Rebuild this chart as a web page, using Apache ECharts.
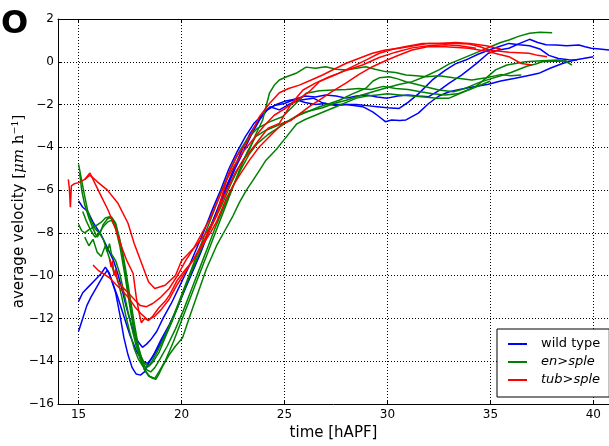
<!DOCTYPE html>
<html><head><meta charset="utf-8">
<script src="https://cdn.jsdelivr.net/npm/echarts@6/dist/echarts.min.js"></script>
<style>html,body{margin:0;padding:0;background:#fff}#c{width:609px;height:446px}</style>
</head><body><div id="c"></div>
<script>
// ---- data (time [hAPF], average velocity [um/h]) ----
const groupNames = ['wild type', 'en>sple', 'tub>sple'];
const groupColors = ['#0000ff', '#008000', '#ff0000'];

const wt1 = [[15.0,-11.2],[15.2,-10.8],[15.5,-10.5],[15.8,-10.2],[16.1,-9.9],[16.3,-9.6],[16.5,-9.9],[16.8,-10.8],[17.0,-11.8],[17.2,-12.9],[17.4,-13.7],[17.6,-14.3],[17.8,-14.6],[18.0,-14.65],[18.2,-14.5],[18.4,-14.1],[18.7,-13.6],[19.0,-13.0],[19.4,-12.3],[19.8,-11.5],[20.2,-10.5],[20.6,-9.6],[21.0,-8.7],[21.4,-7.7],[21.8,-6.8],[22.2,-5.9],[22.6,-5.0],[23.0,-4.2],[23.4,-3.4],[23.8,-2.7],[24.2,-2.2],[24.6,-2.0],[25.0,-1.85],[25.5,-1.75],[26.0,-1.6],[26.5,-1.65],[27.0,-1.55],[27.5,-1.6],[28.0,-1.7],[28.5,-1.6],[29.0,-1.55],[29.5,-1.65],[30.0,-1.7],[30.5,-1.6],[31.0,-1.55],[31.5,-1.6],[32.0,-1.63],[32.5,-1.35],[33.0,-1.0],[33.6,-0.62],[34.3,-0.1],[34.9,0.4],[35.4,0.55],[35.9,0.63],[36.4,0.85],[36.9,1.05],[37.3,0.9],[37.7,0.8],[38.2,0.78],[38.7,0.75],[39.3,0.78],[39.6,0.7],[39.9,0.63],[40.3,0.6],[40.76,0.55]];
const wt2 = [[15.0,-12.6],[15.2,-12.0],[15.4,-11.4],[15.6,-11.0],[15.9,-10.5],[16.2,-10.0],[16.4,-9.75],[16.6,-10.2],[16.9,-11.0],[17.2,-11.9],[17.5,-12.8],[17.8,-13.5],[18.1,-14.0],[18.35,-14.1],[18.6,-13.8],[18.9,-13.3],[19.3,-12.6],[19.7,-11.7],[20.1,-10.8],[20.5,-9.9],[20.9,-9.0],[21.3,-8.0],[21.7,-7.0],[22.1,-6.0],[22.5,-5.1],[22.9,-4.2],[23.3,-3.4],[23.7,-2.8],[24.1,-2.3],[24.5,-2.05],[25.0,-1.95],[25.5,-1.75],[26.0,-1.9],[26.5,-2.0],[27.0,-1.95],[27.5,-2.05],[28.0,-2.0],[28.5,-2.0],[29.0,-2.05],[29.5,-2.1],[30.0,-2.15],[30.57,-2.18],[31.0,-1.9],[31.5,-1.5],[32.18,-0.85],[32.8,-0.4],[33.3,-0.1],[33.8,0.08],[34.4,0.35],[34.93,0.55],[35.4,0.7],[35.9,0.86],[36.4,0.8],[36.9,0.75],[37.4,0.6],[37.84,0.3],[38.3,0.15],[38.8,0.1],[39.2,0.08]];
const wt3 = [[15.0,-6.5],[15.2,-6.8],[15.45,-7.0],[15.7,-7.5],[15.9,-7.8],[16.1,-8.1],[16.3,-8.5],[16.5,-8.9],[16.7,-9.3],[16.9,-9.9],[17.1,-10.6],[17.3,-11.4],[17.5,-12.1],[17.7,-12.7],[17.9,-13.1],[18.1,-13.35],[18.3,-13.2],[18.5,-13.0],[18.8,-12.6],[19.1,-12.0],[19.5,-11.3],[19.9,-10.5],[20.3,-9.7],[20.7,-8.8],[21.1,-7.9],[21.5,-6.9],[21.9,-6.0],[22.3,-5.0],[22.7,-4.2],[23.1,-3.5],[23.5,-2.9],[23.9,-2.5],[24.3,-2.1],[24.75,-2.25],[25.2,-2.0],[25.7,-1.8],[26.4,-1.7],[26.8,-1.9],[27.2,-2.0],[28.0,-2.0],[28.8,-2.1],[29.3,-2.35],[29.6,-2.57],[29.9,-2.8],[30.2,-2.72],[30.6,-2.75],[30.9,-2.72],[31.5,-2.4],[32.0,-1.95],[32.5,-1.6],[33.0,-1.4],[33.5,-1.3],[34.0,-1.2],[34.9,-1.05],[35.5,-0.9],[36.2,-0.77],[36.8,-0.65],[37.35,-0.54],[37.9,-0.3],[38.5,-0.08],[39.1,0.08],[39.5,0.15],[40.0,0.24]];

const en1 = [[15.0,-4.8],[15.1,-5.3],[15.2,-5.8],[15.3,-6.3],[15.45,-7.0],[15.6,-7.4],[15.8,-7.8],[16.0,-8.0],[16.2,-8.3],[16.4,-8.9],[16.5,-8.5],[16.6,-9.0],[16.8,-9.3],[17.0,-9.9],[17.2,-10.8],[17.4,-11.7],[17.6,-12.5],[17.8,-13.3],[18.0,-13.9],[18.2,-14.4],[18.4,-14.7],[18.6,-14.8],[18.75,-14.85],[18.9,-14.6],[19.1,-14.2],[19.4,-13.7],[19.7,-13.3],[20.05,-12.9],[20.4,-11.9],[20.8,-10.8],[21.2,-9.7],[21.7,-8.6],[22.1,-7.9],[22.5,-7.2],[22.8,-6.6],[23.15,-6.0],[23.5,-5.5],[23.8,-5.05],[24.1,-4.6],[24.6,-4.1],[25.1,-3.5],[25.6,-2.9],[26.0,-2.7],[26.5,-2.5],[27.0,-2.3],[27.5,-2.1],[28.0,-1.9],[28.5,-1.7],[29.0,-1.6],[29.5,-1.55],[30.0,-1.5],[30.6,-1.55],[31.2,-1.6],[31.8,-1.65],[32.4,-1.7],[33.0,-1.7],[33.6,-1.45],[34.3,-1.15],[34.8,-0.75],[35.25,-0.38],[35.8,-0.15],[36.7,0.0],[37.5,0.05],[38.3,0.08],[38.7,0.0],[38.96,-0.15]];
const en2 = [[15.0,-7.6],[15.15,-7.9],[15.3,-8.0],[15.5,-7.85],[15.8,-7.7],[16.1,-7.5],[16.3,-7.3],[16.5,-7.25],[16.75,-7.5],[16.9,-8.0],[17.1,-8.7],[17.3,-9.8],[17.5,-11.0],[17.7,-12.2],[17.9,-13.3],[18.1,-14.0],[18.3,-14.4],[18.5,-14.5],[18.7,-14.3],[18.95,-13.9],[19.3,-13.3],[19.7,-12.5],[20.1,-11.6],[20.5,-10.6],[20.9,-9.6],[21.3,-8.6],[21.7,-7.6],[22.1,-6.7],[22.5,-5.8],[22.9,-5.0],[23.3,-4.3],[23.7,-3.8],[24.2,-3.4],[24.75,-3.05],[25.3,-2.7],[25.8,-2.4],[26.4,-2.25],[26.85,-2.15],[27.4,-1.95],[28.0,-1.8],[28.6,-1.6],[29.3,-1.4],[30.0,-1.2],[30.6,-1.05],[31.2,-0.93],[31.8,-0.7],[32.5,-0.38],[33.0,-0.1],[33.5,0.1],[34.0,0.3],[34.5,0.5],[35.0,0.7],[35.5,0.9],[35.9,1.02],[36.4,1.2],[36.9,1.33],[37.4,1.38],[38.0,1.36]];
const en3 = [[15.05,-5.2],[15.15,-6.0],[15.3,-6.7],[15.5,-7.3],[15.7,-7.8],[15.9,-8.2],[16.05,-8.0],[16.2,-7.6],[16.4,-7.35],[16.6,-7.25],[16.8,-7.55],[17.0,-8.3],[17.2,-9.4],[17.4,-10.7],[17.6,-11.9],[17.8,-13.0],[18.0,-13.7],[18.2,-14.1],[18.4,-14.25],[18.6,-14.05],[18.9,-13.6],[19.2,-12.9],[19.6,-12.0],[20.0,-11.0],[20.4,-10.0],[20.8,-9.1],[21.2,-8.2],[21.6,-7.4],[22.0,-6.6],[22.4,-5.7],[22.8,-4.9],[23.3,-4.1],[23.6,-3.4],[23.94,-2.72],[24.1,-2.1],[24.27,-1.47],[24.5,-1.1],[24.75,-0.85],[25.1,-0.7],[25.56,-0.54],[26.05,-0.25],[26.5,-0.3],[27.0,-0.23],[27.5,-0.35],[28.0,-0.38],[28.5,-0.3],[28.95,-0.23],[29.4,-0.35],[29.9,-0.46],[30.4,-0.5],[30.9,-0.62],[31.4,-0.65],[31.9,-0.7],[32.5,-0.65],[33.2,-0.75],[34.1,-0.85],[34.8,-0.75],[35.5,-0.6],[36.0,-0.65],[36.5,-0.62]];
const en4 = [[15.2,-7.0],[15.4,-7.5],[15.6,-7.9],[15.8,-8.2],[16.0,-8.0],[16.2,-7.7],[16.4,-7.5],[16.6,-7.4],[16.8,-7.8],[17.0,-8.6],[17.2,-9.7],[17.4,-10.9],[17.6,-12.1],[17.8,-13.1],[18.0,-13.9],[18.2,-14.4],[18.45,-14.7],[18.7,-14.8],[18.9,-14.5],[19.2,-14.0],[19.6,-13.1],[20.0,-12.1],[20.4,-11.1],[20.8,-10.1],[21.2,-9.1],[21.6,-8.1],[22.0,-7.1],[22.4,-6.1],[22.8,-5.1],[23.2,-4.2],[23.6,-3.5],[24.1,-3.2],[24.6,-3.0],[25.2,-2.75],[25.7,-2.5],[26.2,-2.3],[26.7,-2.1],[27.2,-1.95],[27.66,-1.8],[28.3,-1.5],[28.95,-1.24],[29.3,-0.9],[29.6,-0.75],[30.08,-0.7],[30.5,-0.8],[30.9,-0.93],[31.54,-1.09],[32.0,-1.2],[32.5,-1.32],[33.2,-1.4],[33.6,-1.3],[34.0,-1.15],[34.5,-0.95],[35.0,-0.8],[35.5,-0.65],[36.0,-0.5],[36.4,-0.35],[36.8,-0.2],[37.2,-0.1],[37.5,0.0],[38.0,0.03],[38.3,0.02],[38.7,0.05]];
const en5 = [[15.3,-8.2],[15.5,-8.6],[15.7,-8.3],[15.9,-8.9],[16.1,-9.1],[16.3,-8.6],[16.5,-9.2],[16.7,-9.8],[16.9,-10.2],[17.1,-11.0],[17.3,-11.9],[17.5,-12.7],[17.7,-13.4],[17.9,-13.9],[18.1,-14.2],[18.3,-14.3],[18.5,-14.1],[18.8,-13.6],[19.2,-12.8],[19.6,-11.9],[20.0,-10.9],[20.4,-9.9],[20.8,-8.9],[21.2,-7.9],[21.6,-6.9],[22.0,-5.9],[22.4,-5.0],[22.8,-4.2],[23.2,-3.6],[23.7,-3.1],[24.3,-2.8],[24.9,-2.57],[25.5,-2.0],[26.05,-1.47],[26.7,-1.35],[27.34,-1.32],[28.0,-1.3],[28.6,-1.25],[29.2,-1.3],[29.8,-1.15],[30.4,-1.25],[31.0,-1.3],[31.6,-1.4],[32.2,-1.5],[32.8,-1.55],[33.4,-1.5],[34.0,-1.3],[34.5,-1.1],[35.0,-0.9]];

const tub1 = [[14.5,-5.5],[14.55,-5.9],[14.6,-6.8],[14.65,-5.8],[14.8,-5.7],[15.0,-5.65],[15.3,-5.5],[15.55,-5.3],[15.9,-5.6],[16.4,-6.0],[16.9,-6.6],[17.4,-7.55],[17.7,-8.5],[18.05,-9.4],[18.4,-10.3],[18.7,-10.6],[19.2,-10.45],[19.7,-10.0],[20.0,-9.3],[20.7,-8.6],[21.2,-8.0],[21.7,-7.2],[22.0,-6.15],[22.33,-5.1],[22.65,-4.45],[23.14,-3.8],[23.46,-3.2],[23.78,-2.57],[24.27,-1.95],[24.75,-1.45],[25.2,-1.25],[25.72,-1.09],[26.3,-0.85],[26.85,-0.62],[27.4,-0.35],[28.0,-0.07],[28.6,0.15],[29.27,0.4],[29.9,0.55],[30.57,0.63],[31.3,0.75],[32.0,0.86],[32.7,0.85],[33.3,0.85],[33.96,0.83],[34.5,0.7],[34.93,0.55],[35.9,0.45],[36.87,0.4],[37.3,0.3],[37.75,0.24]];
const tub2 = [[15.3,-5.5],[15.55,-5.2],[15.8,-5.7],[16.03,-6.15],[16.43,-6.93],[16.76,-7.7],[17.08,-8.64],[17.33,-9.27],[17.65,-9.9],[17.8,-11.0],[17.95,-11.8],[18.05,-12.2],[18.2,-12.0],[18.4,-12.1],[18.6,-11.9],[18.9,-11.5],[19.2,-11.2],[19.42,-10.9],[19.8,-10.2],[20.2,-9.7],[20.55,-9.3],[21.0,-8.6],[21.4,-8.0],[21.69,-7.5],[22.17,-6.4],[22.5,-5.8],[22.82,-5.3],[23.3,-4.6],[23.78,-3.97],[24.43,-3.34],[24.9,-2.9],[25.3,-2.75],[25.72,-2.45],[26.2,-2.1],[26.69,-1.79],[27.3,-1.4],[27.98,-1.0],[28.6,-0.6],[29.27,-0.23],[29.9,0.05],[30.57,0.32],[31.2,0.55],[32.0,0.71],[32.8,0.7],[33.96,0.63],[34.93,0.47],[35.4,0.35],[35.9,0.24],[36.5,-0.08],[37.03,-0.15]];
const tub3 = [[15.7,-9.5],[15.95,-9.75],[16.2,-9.9],[16.52,-10.12],[16.8,-10.4],[17.08,-10.67],[17.4,-11.0],[17.73,-11.45],[18.05,-11.8],[18.37,-12.07],[18.7,-11.9],[19.0,-11.6],[19.4,-11.1],[19.8,-10.4],[20.2,-9.8],[20.6,-9.2],[21.0,-8.5],[21.4,-7.8],[21.8,-6.9],[22.2,-6.0],[22.6,-5.2],[23.0,-4.6],[23.4,-4.1],[23.8,-3.6],[24.2,-3.1],[24.75,-2.88],[25.3,-2.0],[25.9,-1.32],[26.5,-1.0],[27.18,-0.7],[28.0,-0.4],[28.79,-0.15],[29.6,0.2],[30.4,0.45],[31.2,0.65],[32.0,0.75],[32.8,0.8],[33.5,0.75],[34.3,0.63]];
const tub4 = [[16.5,-9.2],[16.58,-9.6],[16.65,-9.3],[16.72,-10.0],[16.8,-9.7],[16.9,-10.3],[17.1,-10.5],[17.4,-10.8],[17.7,-11.1],[18.0,-11.4],[18.3,-11.45],[18.6,-11.3],[19.0,-11.0],[19.4,-10.6],[19.8,-10.0],[20.2,-9.3],[20.6,-8.7],[21.0,-8.0],[21.4,-7.3],[21.8,-6.4],[22.2,-5.5],[22.6,-4.8],[23.0,-4.2],[23.5,-3.6],[24.0,-3.0],[24.5,-2.5],[25.0,-2.2],[25.6,-1.8],[26.2,-1.4],[26.69,-0.93],[27.5,-0.6],[28.3,-0.23],[29.0,0.1],[29.6,0.4],[30.3,0.6],[30.9,0.71],[31.7,0.85],[32.5,0.86],[33.3,0.9],[34.0,0.85],[34.8,0.75],[35.5,0.6]];

const groupCurves = [[wt1, wt2, wt3], [en1, en2, en3, en4, en5], [tub1, tub2, tub3, tub4]];

const xMin = 14, xMax = 40.76, yMin = -16, yMax = 2, yStep = 2;

// ---- chart ----
const FONT = 'DejaVu Sans';
const series = [];
groupCurves.forEach((curves, g) => {
  curves.forEach(c => series.push({
    type: 'line', name: groupNames[g], data: c, showSymbol: false, symbol: 'none',
    xAxisIndex: 0, yAxisIndex: 0, animation: false,
    lineStyle: { color: groupColors[g], width: 1.5 }, itemStyle: { color: groupColors[g] }
  }));
});

const minus = v => String(v).replace('-', '\u2212');
const chart = echarts.init(document.getElementById('c'), null, { renderer: 'canvas' });
chart.setOption({
  animation: false,
  backgroundColor: '#fff',
  textStyle: { fontFamily: FONT },
  grid: { left: 58, right: 0, top: 19, bottom: 42, containLabel: false, outerBoundsMode: 'none' },
  graphic: [{ type: 'text', x: 1, y: 25, style: { text: 'O', font: 'bold 32px "DejaVu Sans"', fill: '#000', textVerticalAlign: 'middle' } }],
  legend: {
    data: groupNames, orient: 'vertical', left: 497, top: 329,
    padding: [8, 9, 10, 11], itemGap: 4, itemWidth: 19, itemHeight: 2, icon: 'rect',
    backgroundColor: '#fff', borderColor: '#000', borderWidth: 1, borderRadius: 0,
    selectedMode: false,
    formatter: n => n === 'wild type' ? '{n|' + n + '}' : '{i|' + n + '}',
    textStyle: { fontFamily: FONT, fontSize: 13, color: '#000', lineHeight: 14,
      rich: { n: { fontFamily: FONT, fontSize: 13, lineHeight: 14, padding: [0, 0, 0, 9] },
              i: { fontFamily: FONT, fontSize: 13, fontStyle: 'italic', lineHeight: 14, padding: [0, 0, 0, 9] } } }
  },
  xAxis: [{
    type: 'value', min: xMin, max: xMax, splitNumber: 5,
    name: 'time [hAPF]', nameLocation: 'middle', nameGap: 22, nameMoveOverlap: false,
    nameTextStyle: { fontFamily: FONT, fontSize: 15, color: '#000' },
    axisLine: { show: true, onZero: false, lineStyle: { color: '#000', width: 1 } },
    axisTick: { show: true, inside: true, length: 4, lineStyle: { color: '#000' } },
    axisLabel: { fontFamily: FONT, fontSize: 12, color: '#000', margin: 5, showMinLabel: false, showMaxLabel: false },
    splitLine: { show: true, lineStyle: { color: '#000', type: [1, 2], width: 1 } }
  }, {
    type: 'value', min: xMin, max: xMax, splitNumber: 5, position: 'top',
    axisLine: { show: true, onZero: false, lineStyle: { color: '#000', width: 1 } },
    axisTick: { show: true, inside: true, length: 4, lineStyle: { color: '#000' } },
    axisLabel: { show: false }, splitLine: { show: false }
  }],
  yAxis: [{
    type: 'value', min: yMin, max: yMax, interval: yStep,
    name: '{a|average velocity }{b|[}{c|\u03bcm}{b| h\u207b\u00b9]}',
    nameLocation: 'middle', nameGap: 31, nameRotate: 90, nameMoveOverlap: false,
    nameTextStyle: { fontFamily: FONT, fontSize: 15, color: '#000',
      rich: { a: { fontFamily: FONT, fontSize: 15, color: '#000' },
              b: { fontFamily: 'DejaVu Serif', fontSize: 15, color: '#000' },
              c: { fontFamily: 'DejaVu Serif', fontSize: 15, fontStyle: 'italic', color: '#000' } } },
    axisLine: { show: true, onZero: false, lineStyle: { color: '#000', width: 1 } },
    axisTick: { show: true, inside: true, length: 4, lineStyle: { color: '#000' } },
    axisLabel: { fontFamily: FONT, fontSize: 12, color: '#000', margin: 4, formatter: minus },
    splitLine: { show: true, lineStyle: { color: '#000', type: [1, 2], width: 1 } }
  }],
  series: series
});
</script></body></html>
